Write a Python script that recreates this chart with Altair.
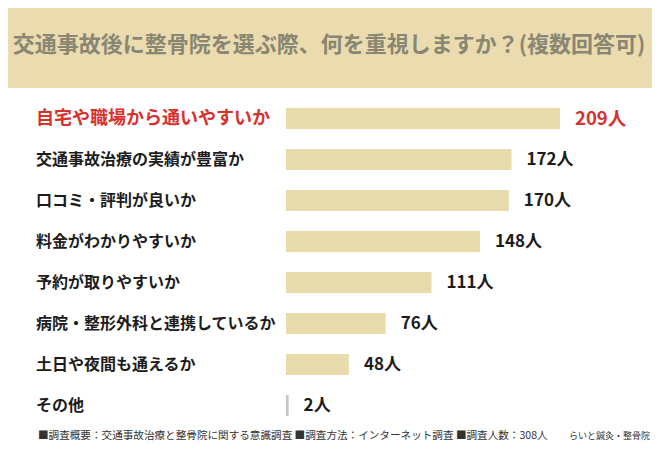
import pandas as pd
import altair as alt

categories = [
    '自宅や職場から通いやすいか',
    '交通事故治療の実績が豊富か',
    '口コミ・評判が良いか',
    '料金がわかりやすいか',
    '予約が取りやすいか',
    '病院・整形外科と連携しているか',
    '土日や夜間も通えるか',
    'その他',
]
counts = [209, 172, 170, 148, 111, 76, 48, 2]
unit = '人'
title_text = '交通事故後に整骨院を選ぶ際、何を重視しますか？(複数回答可)'
note_text = '■調査概要：交通事故治療と整骨院に関する意識調査 ■調査方法：インターネット調査 ■調査人数：308人'
brand_text = 'らいと鍼灸・整骨院'

df = pd.DataFrame({'item': categories, 'count': counts})
df['label'] = df['count'].astype(str) + unit

FONT = 'Noto Sans CJK JP'
RED = '#d8302c'
INK = '#1c1c1c'
is_top = f"datum.item == '{categories[0]}'"
is_other = f"datum.item == '{categories[-1]}'"

# shared scales
y = alt.Y('item:N', sort=categories, axis=None,
          scale=alt.Scale(paddingInner=0, paddingOuter=0))
x = alt.X('count:Q', axis=None,
          scale=alt.Scale(domain=[0, max(counts)], nice=False, zero=True))

base = alt.Chart(df).encode(y=y)

bars = base.mark_bar(height=21).encode(
    x=x,
    color=alt.condition(is_other, alt.value('#c6c6c6'), alt.value('#e8dcad')),
)

values = base.mark_text(align='left', baseline='middle', dx=15,
                        font=FONT, fontWeight='bold').encode(
    x=x,
    text='label:N',
    color=alt.condition(is_top, alt.value(RED), alt.value(INK)),
    size=alt.condition(is_top, alt.value(18.5), alt.value(17)),
)

names = base.mark_text(align='left', baseline='middle',
                       font=FONT, fontWeight='bold').encode(
    x=alt.value(-250),
    text='item:N',
    color=alt.condition(is_top, alt.value(RED), alt.value(INK)),
    size=alt.condition(is_top, alt.value(18), alt.value(16)),
)

# header band + title + footnotes
one = pd.DataFrame({'t': [title_text], 'n': [note_text], 'b': [brand_text]})
band = alt.Chart(one).mark_rect(color='#eadcae').encode(
    x=alt.value(-278), x2=alt.value(366), y=alt.value(-90), y2=alt.value(-10)
)
title = alt.Chart(one).mark_text(font=FONT, fontWeight='bold', fontSize=22,
                                 color='#898673', baseline='middle').encode(
    text='t:N', x=alt.value(43), y=alt.value(-53)
)
note = alt.Chart(one).mark_text(font=FONT, fontSize=10.6, color='#333333',
                                align='left', baseline='middle').encode(
    text='n:N', x=alt.value(-248), y=alt.value(338)
)
brand = alt.Chart(one).mark_text(font=FONT, fontSize=9, color='#333333',
                                 align='right', baseline='middle').encode(
    text='b:N', x=alt.value(364), y=alt.value(338)
)

chart = alt.layer(band, title, bars, values, names, note, brand).properties(
    width=274,
    height=328,
    background='white',
    autosize=alt.AutoSizeParams(type='none'),
    padding={'left': 278, 'top': 90, 'right': 92, 'bottom': 16},
).configure_view(stroke=None)

chart.save('out.html', embed_options={'renderer': 'svg', 'actions': False})
